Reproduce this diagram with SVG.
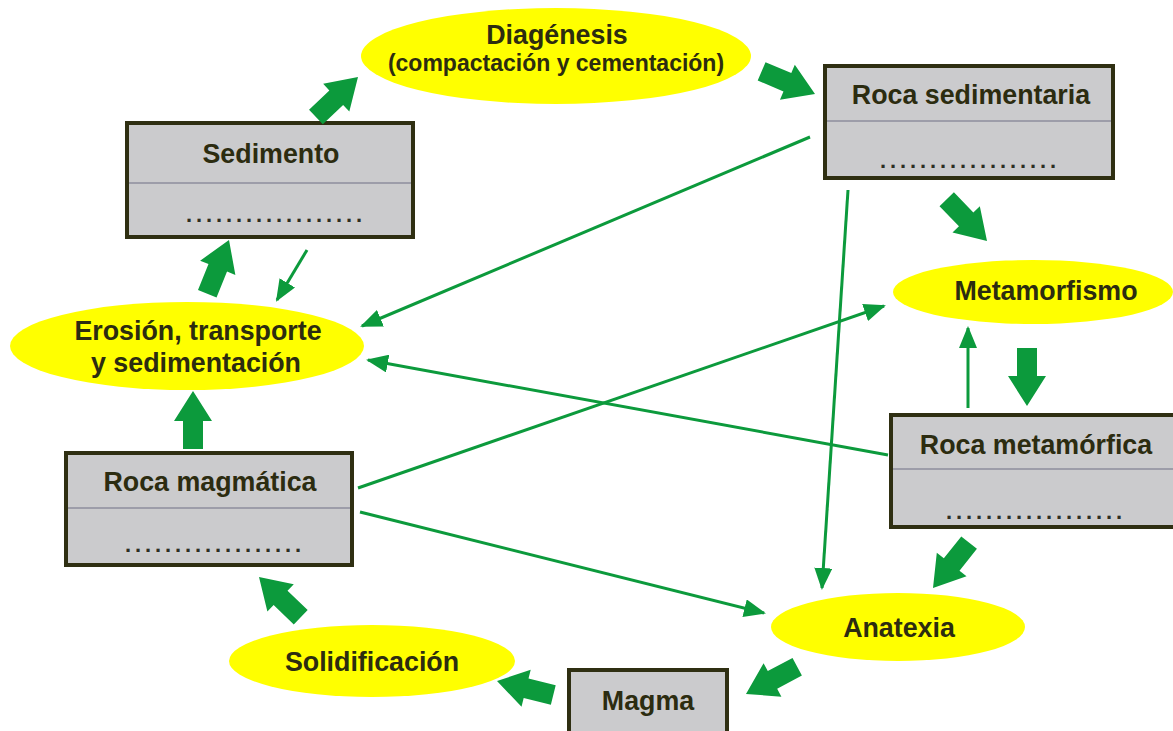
<svg xmlns="http://www.w3.org/2000/svg" xmlns:xlink="http://www.w3.org/1999/xlink" width="1173" height="731" viewBox="0 0 1173 731">
<style>
.box{fill:#cbcbcd;stroke:#2f2f12;stroke-width:4}
.div{stroke:#8e8e9c;stroke-width:1.5}
.ell{fill:#ffff00}
.t{font-family:"Liberation Sans",Arial,sans-serif;font-weight:bold;font-size:26.8px;fill:#2c2c10;text-anchor:middle}
.s{font-size:23px}
.dots{font-family:"Liberation Sans",Arial,sans-serif;font-weight:bold;font-size:22px;fill:#2e2e22;letter-spacing:3.9px;text-anchor:middle}
.thin{fill:none;stroke:#0c9a3c;stroke-width:3;marker-end:url(#ah)}
.big{fill:#0c9a3c}
</style>
<defs>
<marker id="ah" viewBox="0 0 22 18" refX="20" refY="9" markerWidth="22" markerHeight="18" markerUnits="userSpaceOnUse" orient="auto">
<path d="M0,0 L22,9 L0,18 Z" fill="#0c9a3c"/>
</marker>
<path id="ba" d="M-58,-10 L-30,-10 L-30,-19 L0,0 L-30,19 L-30,10 L-58,10 Z"/>
</defs>
<rect width="1173" height="731" fill="#ffffff"/>

<g id="diagenesis">
<ellipse class="ell" cx="556" cy="56" rx="195" ry="48"/>
<text class="t" x="557" y="44">Diagénesis</text>
<text class="t s" x="556" y="71">(compactación y cementación)</text>
</g>
<g id="metamorfismo">
<ellipse class="ell" cx="1033" cy="292" rx="140" ry="32"/>
<text class="t" x="1046" y="300">Metamorfismo</text>
</g>
<g id="erosion">
<ellipse class="ell" cx="187" cy="346" rx="177" ry="44"/>
<text class="t" x="198" y="340">Erosión, transporte</text>
<text class="t" x="196" y="372">y sedimentación</text>
</g>
<g id="anatexia">
<ellipse class="ell" cx="898" cy="627" rx="127" ry="34"/>
<text class="t" x="899" y="637">Anatexia</text>
</g>
<g id="solidificacion">
<ellipse class="ell" cx="372" cy="661" rx="143" ry="36"/>
<text class="t" x="372" y="671">Solidificación</text>
</g>

<g id="sedimento">
<rect class="box" x="127" y="123" width="286" height="114"/>
<line class="div" x1="129" y1="183" x2="411" y2="183"/>
<text class="t" x="271" y="163">Sedimento</text>
<text class="dots" x="276" y="222">..................</text>
</g>
<g id="roca-sedimentaria">
<rect class="box" x="825" y="66" width="288" height="112"/>
<line class="div" x1="827" y1="121" x2="1111" y2="121"/>
<text class="t" x="971" y="104">Roca sedimentaria</text>
<text class="dots" x="970" y="168">..................</text>
</g>
<g id="roca-metamorfica">
<rect class="box" x="891" y="415" width="290" height="112"/>
<line class="div" x1="893" y1="469" x2="1173" y2="469"/>
<text class="t" x="1036" y="454">Roca metamórfica</text>
<text class="dots" x="1036" y="519">..................</text>
</g>
<g id="roca-magmatica">
<rect class="box" x="66" y="453" width="286" height="112"/>
<line class="div" x1="68" y1="508" x2="350" y2="508"/>
<text class="t" x="210" y="491">Roca magmática</text>
<text class="dots" x="215" y="552">..................</text>
</g>
<g id="magma">
<rect class="box" x="569" y="670" width="158" height="80"/>
<text class="t" x="648" y="710">Magma</text>
</g>

<g id="connectors">
<use xlink:href="#ba" href="#ba" class="big" transform="translate(358,77) rotate(-43.5)"/>
<use xlink:href="#ba" href="#ba" class="big" transform="translate(815,94) rotate(23)"/>
<use xlink:href="#ba" href="#ba" class="big" transform="translate(987,241) rotate(46)"/>
<use xlink:href="#ba" href="#ba" class="big" transform="translate(1027,406) rotate(90)"/>
<use xlink:href="#ba" href="#ba" class="big" transform="translate(933,588) rotate(128.5)"/>
<use xlink:href="#ba" href="#ba" class="big" transform="translate(746,694) rotate(152)"/>
<use xlink:href="#ba" href="#ba" class="big" transform="translate(497,681) rotate(194)"/>
<use xlink:href="#ba" href="#ba" class="big" transform="translate(259,577) rotate(224)"/>
<use xlink:href="#ba" href="#ba" class="big" transform="translate(193,391) rotate(-90)"/>
<use xlink:href="#ba" href="#ba" class="big" transform="translate(229,240) rotate(-68)"/>
<line class="thin" x1="307" y1="250" x2="277" y2="300"/>
<line class="thin" x1="810" y1="137" x2="362" y2="326"/>
<line class="thin" x1="888" y1="455" x2="368" y2="360"/>
<line class="thin" x1="358" y1="488" x2="884" y2="306"/>
<line class="thin" x1="360" y1="512" x2="764" y2="613"/>
<line class="thin" x1="848" y1="190" x2="822" y2="588"/>
<line class="thin" x1="968" y1="408" x2="968" y2="328"/>
</g>
</svg>
